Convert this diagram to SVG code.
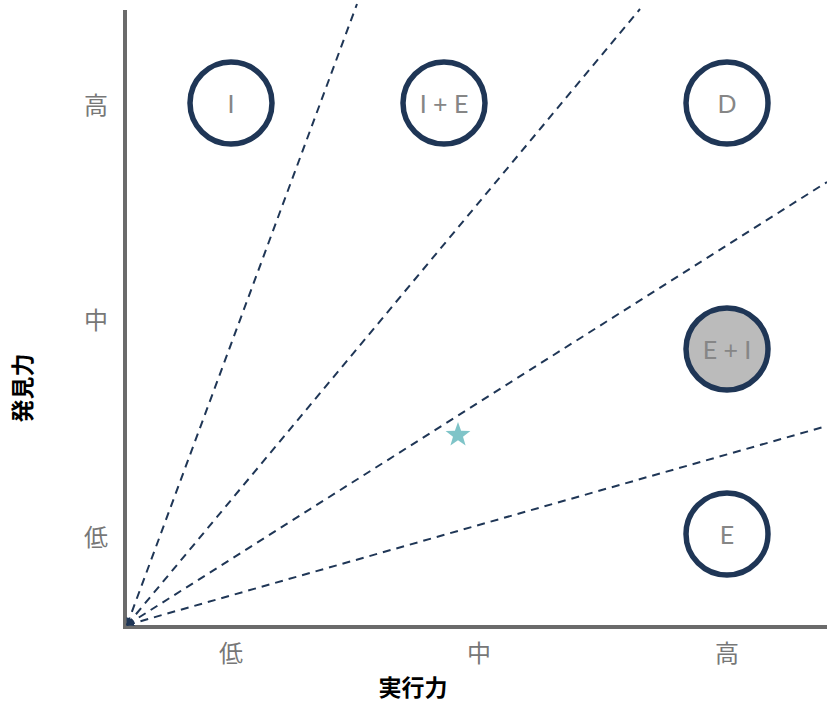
<svg xmlns="http://www.w3.org/2000/svg" width="827" height="702" viewBox="0 0 827 702">
<style>
.axis{stroke:#6b6b6b;stroke-width:4;fill:none}
.ray{stroke:#1f3656;stroke-width:2;stroke-dasharray:8 6;fill:none}
.node{fill:#fff;stroke:#1f3656;stroke-width:5.5}
.node.hl{fill:#bbbbbb}
.lbl{font-family:Lato,"Liberation Sans","Noto Sans CJK JP",sans-serif;font-size:25px;fill:#868686;text-anchor:middle;dominant-baseline:central}
.tick{font-family:"Noto Sans CJK JP",sans-serif;font-size:24px;fill:#777;text-anchor:middle;dominant-baseline:central}
.title{font-family:"Noto Sans CJK JP",sans-serif;font-size:23px;font-weight:bold;fill:#000;text-anchor:middle;dominant-baseline:central}
</style>
<defs>
<marker id="arr" viewBox="0 0 10 10" refX="9" refY="5" markerWidth="4" markerHeight="4" orient="auto-start-reverse" markerUnits="strokeWidth">
<path d="M0,1 L10,5 L0,9 z" fill="#1f3656"/>
</marker>
</defs>
<rect width="827" height="702" fill="#fff"/>
<g id="axes">
<line class="axis" x1="125" y1="10" x2="125" y2="627"/>
<line class="axis" x1="123" y1="627" x2="827" y2="627"/>
</g>
<g id="connectors">
<line class="ray" x1="127" y1="625" x2="357" y2="4" marker-start="url(#arr)"/>
<line class="ray" x1="127" y1="625" x2="640" y2="9" marker-start="url(#arr)"/>
<line class="ray" x1="127" y1="625" x2="827" y2="182" marker-start="url(#arr)"/>
<line class="ray" x1="127" y1="625" x2="827" y2="426" marker-start="url(#arr)"/>
</g>
<g id="node-I"><circle class="node" cx="231" cy="103" r="41"/><text class="lbl" x="231" y="103">I</text></g>
<g id="node-IE"><circle class="node" cx="444" cy="103" r="41"/><text class="lbl" x="444" y="103">I + E</text></g>
<g id="node-D"><circle class="node" cx="727" cy="103" r="41"/><text class="lbl" x="727" y="103">D</text></g>
<g id="node-EI"><circle class="node hl" cx="727" cy="349" r="41"/><text class="lbl" x="727" y="349">E + I</text></g>
<g id="node-E"><circle class="node" cx="727" cy="534" r="41"/><text class="lbl" x="727" y="534">E</text></g>
<g id="star"><polygon fill="#7fc4c8" points="458,422 461.1,430.8 470.4,431 463,436.7 465.6,445.6 458,440.3 450.4,445.6 453,436.7 445.6,431 454.9,430.8"/></g>
<g id="ticks">
<text class="tick" x="96" y="103">高</text>
<text class="tick" x="96" y="318">中</text>
<text class="tick" x="96" y="535">低</text>
<text class="tick" x="231" y="651">低</text>
<text class="tick" x="479" y="651">中</text>
<text class="tick" x="727" y="651">高</text>
</g>
<g id="titles">
<text class="title" x="413" y="686">実行力</text>
<text class="title" transform="translate(21,388) rotate(-90)">発見力</text>
</g>
</svg>
